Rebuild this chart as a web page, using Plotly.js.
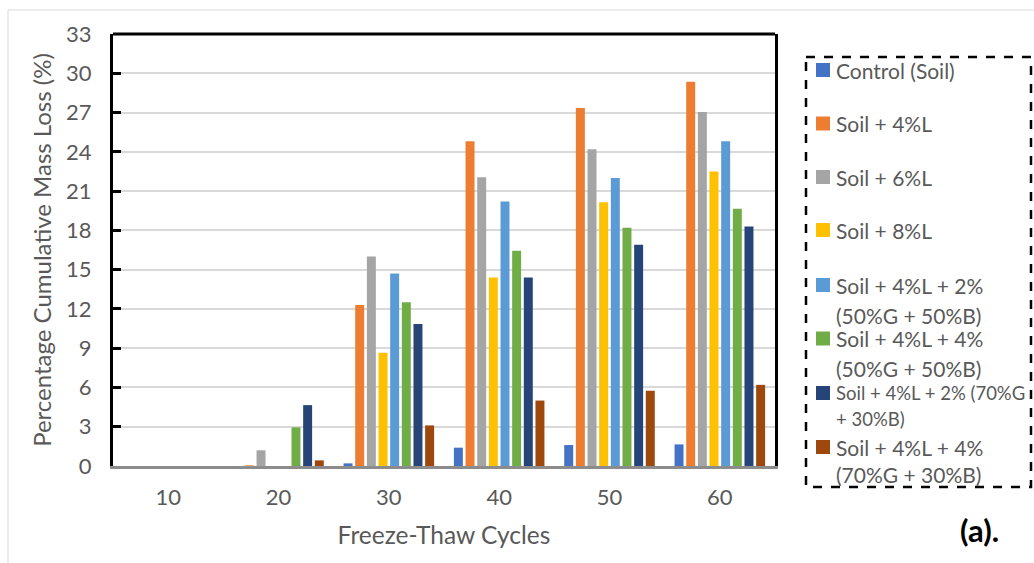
<!DOCTYPE html>
<html><head><meta charset="utf-8">
<script src="https://cdn.plot.ly/plotly-3.0.1.min.js"></script>
<style>body{margin:0;background:#fff}#chart{width:1034px;height:563px}</style>
</head><body><div id="chart"></div>
<script>
const cycles = ['10','20','30','40','50','60'];
const seriesNames = ['Control (Soil)','Soil + 4%L','Soil + 6%L','Soil + 8%L',
  'Soil + 4%L + 2% (50%G + 50%B)','Soil + 4%L + 4% (50%G + 50%B)',
  'Soil + 4%L + 2% (70%G + 30%B)','Soil + 4%L + 4% (70%G + 30%B)'];
const colors = ['#4472C4','#ED7D31','#A5A5A5','#FFC000','#5B9BD5','#70AD47','#264478','#9E480E'];
const control   = [0, 0,    0.2,  1.4,  1.6,  1.65];
const lime4     = [0, 0.05, 12.3, 24.8, 27.35,29.35];
const lime6     = [0, 1.2,  16.0, 22.05,24.2, 27.05];
const lime8     = [0, 0,    8.65, 14.4, 20.15,22.5];
const g50b50_2  = [0, 0,    14.7, 20.2, 22.0, 24.8];
const g50b50_4  = [0, 2.95, 12.5, 16.45,18.2, 19.65];
const g70b30_2  = [0, 4.65, 10.85,14.4, 16.9, 18.3];
const g70b30_4  = [0, 0.43, 3.1,  5.0,  5.75, 6.2];
const values = [control,lime4,lime6,lime8,g50b50_2,g50b50_4,g70b30_2,g70b30_4];
const legendLines = [['Control (Soil)'],['Soil + 4%L'],['Soil + 6%L'],['Soil + 8%L'],
  ['Soil + 4%L + 2%','(50%G + 50%B)'],['Soil + 4%L + 4%','(50%G + 50%B)'],
  ['Soil + 4%L + 2% (70%G','+ 30%B)'],['Soil + 4%L + 4%','(70%G + 30%B)']];

const FONT = 'Lato, "Open Sans", sans-serif';
const TXT = '#595959';
const L=113, R=775, T=34, B=466, W=1034, H=563;
const px = x => (x-L)/(R-L);
const py = y => (B-y)/(B-T);

const traces = values.map((v,i)=>({
  type:'bar', x:cycles, y:v, name:seriesNames[i],
  marker:{color:colors[i]}, showlegend:false, hoverinfo:'x+y+name'
}));

const shapes = [
  {type:'line',xref:'paper',yref:'paper',x0:0,x1:1,y0:1,y1:1,line:{color:'#000',width:3}},
  {type:'line',xref:'paper',yref:'paper',x0:px(8),x1:px(8),y0:py(10),y1:py(563),line:{color:'#d9d9d9',width:1}},
  {type:'line',xref:'paper',yref:'paper',x0:px(8),x1:px(1034),y0:py(10),y1:py(10),line:{color:'#d9d9d9',width:1}},
  {type:'rect',xref:'paper',yref:'paper',x0:px(806),x1:px(1031),y0:py(57),y1:py(487),line:{color:'#000',width:2.5,dash:'dash'}}
];
const annotations = [
  {xref:'paper',yref:'paper',x:px(1001),y:py(530),text:'<b>(a).</b>',showarrow:false,xanchor:'right',yanchor:'middle',font:{family:FONT,size:31,color:'#000'}}
];
const entryY = [70,123.5,177,230,285,338.5,393,447];
const line2Y = [null,null,null,null,315,368.5,419,475];
legendLines.forEach((lines,i)=>{
  const y = entryY[i];
  shapes.push({type:'rect',xref:'paper',yref:'paper',x0:px(816),x1:px(830),y0:py(y+7),y1:py(y-7),fillcolor:colors[i],line:{width:0}});
  const fs = i===6 ? 18.5 : 21;
  annotations.push({xref:'paper',yref:'paper',x:px(834),y:py(y),text:lines[0],showarrow:false,xanchor:'left',yanchor:'middle',font:{family:FONT,size:fs,color:TXT}});
  if(lines[1]) annotations.push({xref:'paper',yref:'paper',x:px(834),y:py(line2Y[i]),text:lines[1],showarrow:false,xanchor:'left',yanchor:'middle',font:{family:FONT,size:fs,color:TXT}});
});

const layout = {
  width:W, height:H,
  margin:{l:L, r:W-R, t:T, b:H-B, pad:0},
  paper_bgcolor:'#fff', plot_bgcolor:'#fff',
  barmode:'group', bargap:0.155, bargroupgap:0.23,
  font:{family:FONT,color:TXT},
  xaxis:{type:'category', showline:true, linecolor:'#8c8c8c', linewidth:3, ticks:'',
    tickfont:{family:FONT,size:22,color:TXT}, ticklabelstandoff:10,
    title:{text:'Freeze-Thaw Cycles', font:{family:FONT,size:24.5,color:TXT}, standoff:18}},
  yaxis:{range:[0,33], dtick:3, tick0:0, showline:true, linecolor:'#000', linewidth:3, mirror:true,
    ticks:'inside', ticklen:8, tickwidth:3, tickcolor:'#000',
    showgrid:true, gridcolor:'#d9d9d9', gridwidth:2, zeroline:false,
    tickfont:{family:FONT,size:22,color:TXT}, ticklabelstandoff:14,
    title:{text:'Percentage Cumulative Mass Loss (%)', font:{family:FONT,size:24,color:TXT}, standoff:8}},
  shapes, annotations
};
Plotly.newPlot('chart', traces, layout, {displayModeBar:false, staticPlot:true});
</script></body></html>
